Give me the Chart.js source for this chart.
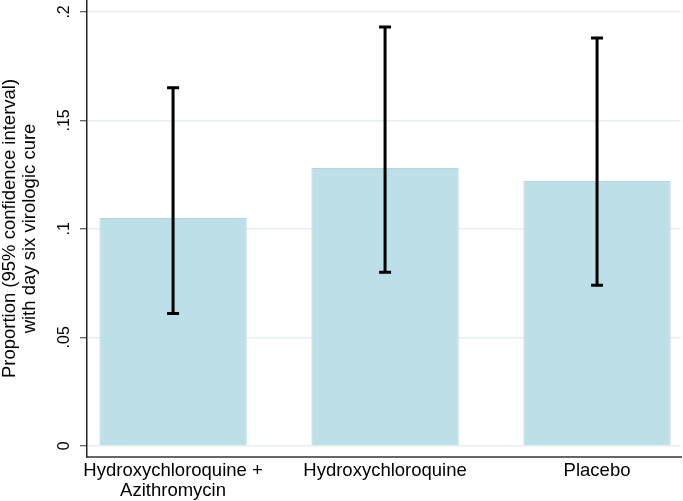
<!DOCTYPE html>
<html>
<head>
<meta charset="utf-8">
<script src="https://cdn.jsdelivr.net/npm/chart.js@4/dist/chart.umd.min.js"></script>
<style>
  html, body { margin: 0; padding: 0; background: #fff; }
  #wrap { width: 683px; height: 501px; }
</style>
</head>
<body>
<div id="wrap"><canvas id="chart"></canvas></div>
<script>
// DATA //
const groups = [['Hydroxychloroquine +', 'Azithromycin'], 'Hydroxychloroquine', 'Placebo']
const proportions = [0.105, 0.128, 0.122]
const ciLower = [0.061, 0.080, 0.074]
const ciUpper = [0.165, 0.193, 0.188]
const yTicks = [0, 0.05, 0.1, 0.15, 0.2]
const yTickLabels = ['0', '.05', '.1', '.15', '.2']

// ERROR BARS (drawn from the chart's own scales) //
const errorBars = {
    id: 'errorBars',
    afterDatasetsDraw(chart) {
        const { ctx, scales: { x, y } } = chart
        ctx.save()
        ctx.strokeStyle = '#000'
        ctx.lineWidth = 3
        ctx.lineCap = 'butt'
        proportions.forEach((_, i) => {
            const px = x.getPixelForValue(i + 1)
            const top = y.getPixelForValue(ciUpper[i])
            const bottom = y.getPixelForValue(ciLower[i])
            ctx.beginPath()
            ctx.moveTo(px, top)
            ctx.lineTo(px, bottom)
            ctx.moveTo(px - 6, top)
            ctx.lineTo(px + 6, top)
            ctx.moveTo(px - 6, bottom)
            ctx.lineTo(px + 6, bottom)
            ctx.stroke()
        })
        ctx.restore()
    }
}

Chart.defaults.font.family = '"Liberation Sans", Arial, sans-serif'
Chart.defaults.color = '#000'

new Chart(document.getElementById('chart'), {
    type: 'bar',
    data: {
        datasets: [{
            data: proportions.map((v, i) => ({ x: i + 1, y: v })),
            backgroundColor: '#bddfe8',
            borderColor: '#b2d6e1',
            borderWidth: 1,
            barPercentage: 0.695,
            categoryPercentage: 1
        }]
    },
    options: {
        responsive: true,
        maintainAspectRatio: false,
        animation: false,
        layout: { padding: { top: 0, right: 2, bottom: 0, left: 0 } },
        plugins: {
            legend: { display: false },
            tooltip: { enabled: false }
        },
        scales: {
            x: {
                type: 'linear',
                offset: false,
                min: 0.594,
                max: 3.396,
                afterBuildTicks: scale => { scale.ticks = [1, 2, 3].map(v => ({ value: v })) },
                afterFit: scale => {
                    scale.height = 44
                    scale.paddingLeft = 0
                    scale.paddingRight = 0
                },
                ticks: {
                    callback: v => groups[v - 1],
                    font: { size: 18.5, lineHeight: 1.08 },
                    padding: 4,
                    maxRotation: 0,
                    autoSkip: false
                },
                grid: { display: false, drawTicks: false },
                border: { display: true, color: '#666', width: 2 }
            },
            y: {
                min: -0.0052,
                max: 0.2055,
                afterBuildTicks: scale => { scale.ticks = yTicks.map(v => ({ value: v })) },
                afterFit: scale => {
                    scale.width = 87
                    scale.paddingTop = 0
                    scale.paddingBottom = 0
                },
                ticks: {
                    callback: (v) => yTickLabels[yTicks.indexOf(v)],
                    font: { size: 16 },
                    minRotation: 90,
                    maxRotation: 90,
                    crossAlign: 'center',
                    padding: 4
                },
                grid: {
                    color: '#e6eeef',
                    lineWidth: 1.5,
                    tickColor: '#333',
                    tickLength: 7,
                    tickWidth: 1
                },
                border: { display: true, color: '#222', width: 1.5 },
                title: {
                    display: true,
                    text: ['Proportion (95% confidence interval)', 'with day six virologic cure'],
                    font: { size: 18.5, lineHeight: 1.08 },
                    padding: { top: 0, bottom: 0 }
                }
            }
        }
    },
    plugins: [errorBars]
})
</script>
</body>
</html>
